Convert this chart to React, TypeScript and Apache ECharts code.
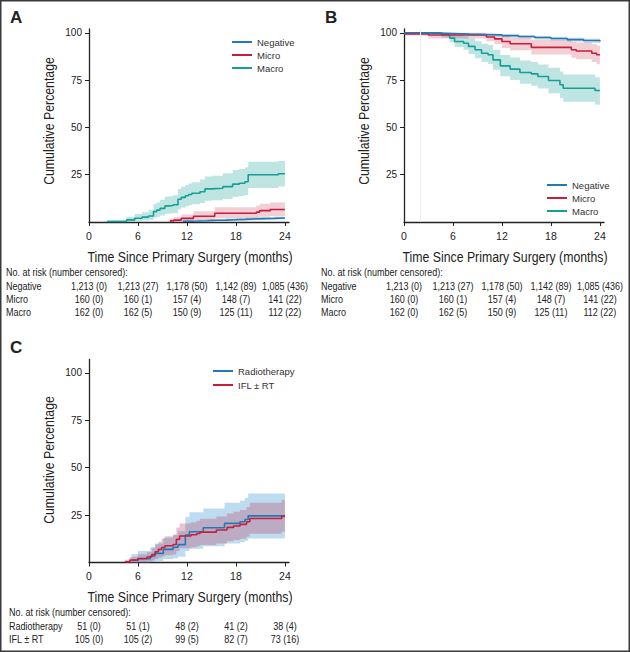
import { useEffect, useRef } from 'react';
import * as echarts from 'echarts';

const FONT = '"Liberation Sans", Arial, sans-serif';
const NARROW = 0.82;
const BLUE = '#2378b6';
const RED = '#c61f3e';
const TEAL = '#14a096';
const INK = '#222';

const monthTicks = [0, 6, 12, 18, 24];
const pctTicks = [25, 50, 75, 100];

// ---------- Panel A (cumulative incidence) ----------
const aNegT = [11.5, 12.4, 13.3, 14.5, 15.6, 16.8, 18.0, 19.2, 20.3, 21.5, 22.7, 24];
const aNegV = [0.4, 0.5, 0.7, 0.9, 1.0, 1.2, 1.4, 1.6, 1.8, 1.9, 2.1, 2.2];
const aNegLo = [0.0, 0.1, 0.2, 0.4, 0.5, 0.6, 0.8, 0.9, 1.1, 1.2, 1.3, 1.4];
const aNegHi = [0.9, 1.0, 1.2, 1.5, 1.6, 1.9, 2.1, 2.4, 2.6, 2.7, 2.9, 3.1];

const aMicT = [9.9, 10.4, 11.3, 12.8, 15.4, 20.5, 20.9, 22.2, 24];
const aMicV = [0.6, 1.0, 1.9, 3.0, 4.6, 5.2, 6.0, 6.6, 6.6];
const aMicLo = [0.0, 0.1, 0.4, 1.0, 2.0, 2.4, 2.8, 3.2, 3.2];
const aMicHi = [1.8, 2.6, 4.0, 5.7, 7.8, 8.6, 9.6, 10.3, 10.3];

const aMacT = [2.2, 4.6, 5.6, 6.5, 7.3, 7.9, 8.3, 8.7, 9.3, 9.8, 10.3, 10.9, 11.3, 11.8, 12.2, 12.6, 13.6, 14.2, 15.0, 16.4, 17.6, 18.4, 19.1, 19.5, 23.2, 24];
const aMacV = [0.3, 1.1, 2.0, 2.6, 3.2, 5.5, 6.3, 7.2, 8.5, 8.7, 9.1, 12.0, 13.0, 13.9, 14.5, 15.2, 16.0, 17.5, 17.8, 18.7, 20.0, 20.5, 21.3, 25.0, 25.5, 25.5];
const aMacLo = [0.0, 0.2, 0.5, 0.8, 1.1, 2.3, 2.8, 3.4, 4.3, 4.5, 4.8, 6.8, 7.6, 8.3, 8.8, 9.4, 10.0, 11.2, 11.5, 12.2, 13.3, 13.7, 14.3, 18.0, 18.7, 18.7];
const aMacHi = [1.0, 2.8, 4.2, 5.2, 6.5, 9.5, 10.5, 11.7, 13.3, 13.6, 14.2, 17.5, 18.6, 19.6, 20.3, 21.0, 22.5, 24.0, 24.4, 25.7, 27.5, 28.0, 29.0, 31.8, 32.3, 32.3];

// ---------- Panel B ----------
const bNegT = [0, 2, 4, 6, 8, 10, 12, 14, 16, 18, 20, 22, 24];
const bNegV = [100, 99.8, 99.6, 99.3, 99.1, 98.9, 98.5, 98.0, 97.5, 97.0, 96.4, 95.9, 95.4];
const bNegLo = [99.8, 99.5, 99.2, 98.8, 98.5, 98.2, 97.7, 97.1, 96.5, 95.9, 95.2, 94.6, 94.0];
const bNegHi = [100, 100, 99.9, 99.7, 99.6, 99.4, 99.1, 98.7, 98.3, 97.9, 97.4, 97.0, 96.6];

const bMicT = [0, 3.0, 10.1, 11.1, 12.0, 13.0, 15.6, 20.5, 21.1, 23.0, 23.6, 24];
const bMicV = [99.4, 98.8, 97.8, 96.8, 95.4, 94.2, 92.3, 91.0, 90.4, 89.2, 88.4, 88.4];
const bMicLo = [98.5, 97.0, 95.5, 94.0, 92.0, 90.8, 88.5, 86.8, 86.0, 84.5, 83.4, 83.4];
const bMicHi = [100, 100, 99.5, 99.0, 98.2, 97.5, 96.3, 95.2, 94.8, 94.0, 93.3, 93.3];

const bMacT = [0, 4.6, 5.6, 6.2, 7.3, 7.9, 8.7, 9.5, 10.3, 10.9, 11.8, 13.0, 14.2, 15.6, 16.4, 17.7, 19.1, 19.5, 23.4, 24];
const bMacV = [100, 99.1, 97.2, 95.4, 94.5, 92.8, 91.0, 89.2, 88.4, 85.7, 82.5, 80.8, 79.0, 78.3, 76.9, 74.8, 72.5, 70.7, 69.5, 69.5];
const bMacLo = [100, 97.5, 95.0, 92.5, 91.0, 88.8, 86.5, 84.5, 83.5, 80.5, 77.0, 75.0, 73.0, 72.0, 70.5, 68.0, 65.5, 63.5, 62.0, 62.0];
const bMacHi = [100, 100, 99.5, 98.8, 98.2, 97.0, 95.5, 94.2, 93.5, 91.0, 88.2, 87.0, 85.3, 84.5, 83.3, 81.5, 79.5, 78.0, 76.5, 76.5];

// ---------- Panel C ----------
const cRadT = [5.2, 6.0, 7.5, 8.1, 9.1, 10.3, 10.9, 11.8, 12.3, 14.0, 16.6, 18.5, 19.1, 19.5, 24];
const cRadV = [1.2, 2.0, 3.4, 4.8, 6.9, 8.0, 9.4, 14.5, 16.2, 18.3, 20.6, 21.5, 22.7, 24.6, 24.6];
const cRadLo = [0, 0, 0.3, 0.8, 1.8, 2.3, 3.0, 6.0, 7.3, 8.5, 10.0, 10.7, 11.5, 12.7, 12.7];
const cRadHi = [4.5, 6.0, 8.0, 10.0, 13.0, 14.5, 16.5, 24.0, 26.5, 28.5, 31.5, 32.5, 34.0, 36.4, 36.4];

const cIflT = [4.4, 5.0, 6.0, 7.1, 7.7, 8.1, 8.5, 8.9, 9.3, 10.3, 10.7, 11.1, 12.5, 13.2, 13.6, 15.6, 16.9, 17.7, 18.5, 19.3, 19.7, 23.6, 24];
const cIflV = [0.4, 1.3, 2.1, 2.9, 4.2, 5.7, 6.9, 7.9, 8.8, 9.5, 12.2, 14.0, 14.6, 15.3, 16.0, 17.1, 18.5, 19.2, 20.1, 21.5, 23.2, 24.3, 24.3];
const cIflLo = [0, 0, 0.2, 0.5, 1.0, 1.8, 2.5, 3.2, 3.8, 4.2, 6.0, 7.5, 8.0, 8.6, 9.2, 10.0, 11.2, 11.8, 12.5, 13.7, 15.2, 16.2, 16.2];
const cIflHi = [1.5, 3.0, 4.3, 5.5, 7.5, 9.5, 11.0, 12.5, 13.8, 14.8, 18.5, 20.5, 21.2, 22.0, 23.0, 24.3, 25.8, 26.7, 27.7, 29.3, 31.5, 32.9, 32.9];

// ---------- Risk tables ----------
const riskHeader = 'No. at risk (number censored):';
const riskNegative = ['1,213 (0)', '1,213 (27)', '1,178 (50)', '1,142 (89)', '1,085 (436)'];
const riskMicro = ['160 (0)', '160 (1)', '157 (4)', '148 (7)', '141 (22)'];
const riskMacro = ['162 (0)', '162 (5)', '150 (9)', '125 (11)', '112 (22)'];
const riskRadio = ['51 (0)', '51 (1)', '48 (2)', '41 (2)', '38 (4)'];
const riskIfl = ['105 (0)', '105 (2)', '99 (5)', '82 (7)', '73 (16)'];

const xTitle = 'Time Since Primary Surgery (months)';
const yTitle = 'Cumulative Percentage';

function pairs(t: number[], v: number[]) {
  return t.map((x, i) => [x, v[i]]);
}

function kmLine(name: string, g: number, t: number[], v: number[], color: string) {
  return {
    type: 'line', name, xAxisIndex: g, yAxisIndex: g,
    data: pairs(t, v), step: 'end', symbol: 'none', showSymbol: false,
    lineStyle: { color, width: 1.6 }, itemStyle: { color }, z: 4,
  };
}

function band(id: string, g: number, t: number[], lo: number[], hi: number[], color: string, opacity: number) {
  return {
    type: 'custom', name: id, coordinateSystem: 'cartesian2d', xAxisIndex: g, yAxisIndex: g,
    data: t.map((x, i) => [x, lo[i], hi[i]]),
    encode: { x: 0, y: [1, 2] }, z: 2, silent: true,
    renderItem: (params: any, api: any) => {
      if (params.dataIndex !== 0) return null;
      const n = t.length;
      const pts: number[][] = [];
      for (let i = 0; i < n; i++) {
        pts.push(api.coord([t[i], hi[i]]));
        if (i < n - 1) pts.push(api.coord([t[i + 1], hi[i]]));
      }
      for (let i = n - 1; i >= 0; i--) {
        if (i < n - 1) pts.push(api.coord([t[i + 1], lo[i]]));
        pts.push(api.coord([t[i], lo[i]]));
      }
      return { type: 'polygon', shape: { points: pts }, style: { fill: color, opacity } };
    },
  };
}

function xAxisOf(g: number) {
  return {
    type: 'value', gridIndex: g, min: 0, max: 24.5, interval: 6,
    axisLine: { lineStyle: { color: INK, width: 1.3 } },
    axisTick: { show: true, length: 4, lineStyle: { color: INK, width: 1 }, customValues: monthTicks },
    axisLabel: { fontFamily: FONT, fontSize: 10.5, color: INK, margin: 8, customValues: monthTicks },
    splitLine: { show: false },
  };
}

function yAxisOf(g: number, max: number) {
  return {
    type: 'value', gridIndex: g, min: 0, max, interval: 25,
    axisLine: { show: true, lineStyle: { color: INK, width: 1.3 } },
    axisTick: { show: true, length: 4, lineStyle: { color: INK, width: 1 }, customValues: pctTicks },
    axisLabel: { fontFamily: FONT, fontSize: 10, color: INK, margin: 7, customValues: pctTicks },
    splitLine: { show: false },
  };
}

function legendOf(names: string[], left: number, top: number, lh: number) {
  return {
    data: names, orient: 'vertical', left, top, padding: 0, itemGap: 0,
    icon: 'rect', itemWidth: 20, itemHeight: 2, selectedMode: false,
    textStyle: { fontFamily: FONT, fontSize: 9.5, color: '#333', lineHeight: lh },
  };
}

export default function App() {
  const ref = useRef<HTMLDivElement>(null);

  useEffect(() => {
    document.body.style.margin = '0';
    const chart = echarts.init(ref.current!, undefined, { renderer: 'svg' });

    const series: any[] = [
      band('aMacBand', 0, aMacT, aMacLo, aMacHi, TEAL, 0.27),
      band('aMicBand', 0, aMicT, aMicLo, aMicHi, RED, 0.22),
      band('aNegBand', 0, aNegT, aNegLo, aNegHi, BLUE, 0.22),
      kmLine('Macro', 0, aMacT, aMacV, TEAL),
      kmLine('Micro', 0, aMicT, aMicV, RED),
      kmLine('Negative', 0, aNegT, aNegV, BLUE),

      {
        type: 'line', name: 'bRef', xAxisIndex: 1, yAxisIndex: 1, data: [], silent: true,
        markLine: { silent: true, symbol: 'none', label: { show: false }, animation: false,
          lineStyle: { color: '#ededed', width: 1, type: 'solid' }, data: [{ xAxis: 2 }] },
      },
      band('bMacBand', 1, bMacT, bMacLo, bMacHi, TEAL, 0.27),
      band('bMicBand', 1, bMicT, bMicLo, bMicHi, RED, 0.22),
      band('bNegBand', 1, bNegT, bNegLo, bNegHi, BLUE, 0.22),
      kmLine('Macro', 1, bMacT, bMacV, TEAL),
      kmLine('Micro', 1, bMicT, bMicV, RED),
      kmLine('Negative', 1, bNegT, bNegV, BLUE),

      band('cRadBand', 2, cRadT, cRadLo, cRadHi, '#62acd8', 0.42),
      band('cIflBand', 2, cIflT, cIflLo, cIflHi, '#b8486a', 0.32),
      kmLine('Radiotherapy', 2, cRadT, cRadV, BLUE),
      kmLine('IFL \u00b1 RT', 2, cIflT, cIflV, RED),
    ];

    const staticGraphics: any[] = [
      { type: 'rect', shape: { x: 0.75, y: 0.75, width: 628.5, height: 650.5 },
        style: { fill: 'none', stroke: '#3a3a3a', lineWidth: 1.5 }, silent: true },
    ];
    const addText = (text: string, x: number, y: number, o: any = {}) => {
      staticGraphics.push({
        type: 'text', x, y, rotation: o.rotation || 0, scaleX: o.scaleX ?? NARROW, silent: true,
        style: {
          text, fill: o.fill || INK, fontSize: o.fontSize || 11,
          fontFamily: FONT, fontWeight: o.fontWeight || 'normal',
          textAlign: o.align || 'left', textVerticalAlign: 'middle',
        },
      });
    };
    addText('A', 10, 17, { fontSize: 17, fontWeight: 'bold', scaleX: 1 });
    addText('B', 325, 17, { fontSize: 17, fontWeight: 'bold', scaleX: 1 });
    addText('C', 10, 347, { fontSize: 17, fontWeight: 'bold', scaleX: 1 });
    addText(yTitle, 49, 121, { fontSize: 15, align: 'center', rotation: Math.PI / 2 });
    addText(yTitle, 364, 121, { fontSize: 15, align: 'center', rotation: Math.PI / 2 });
    addText(yTitle, 49, 460, { fontSize: 15, align: 'center', rotation: Math.PI / 2 });
    addText(xTitle, 190, 257, { fontSize: 15, align: 'center' });
    addText(xTitle, 505, 257, { fontSize: 15, align: 'center' });
    addText(xTitle, 190, 597, { fontSize: 15, align: 'center' });

    chart.setOption({
      animation: false,
      grid: [
        { left: 89, top: 29, width: 200, height: 193 },
        { left: 404, top: 29, width: 200, height: 193 },
        { left: 89, top: 359.5, width: 200, height: 203 },
      ],
      xAxis: [xAxisOf(0), xAxisOf(1), xAxisOf(2)],
      yAxis: [yAxisOf(0, 102), yAxisOf(1, 102), yAxisOf(2, 107)],
      legend: [
        legendOf(['Negative', 'Micro', 'Macro'], 232, 35.5, 13),
        legendOf(['Negative', 'Micro', 'Macro'], 547, 178.5, 13),
        legendOf(['Radiotherapy', 'IFL \u00b1 RT'], 213, 364, 14),
      ],
      series,
    });

    const tables = [
      { g: 0, labelX: 6, headerY: 272, rows: [['Negative', riskNegative, 286], ['Micro', riskMicro, 299.5], ['Macro', riskMacro, 312.5]] },
      { g: 1, labelX: 321, headerY: 272, rows: [['Negative', riskNegative, 286], ['Micro', riskMicro, 299.5], ['Macro', riskMacro, 312.5]] },
      { g: 2, labelX: 9, headerY: 612, rows: [['Radiotherapy', riskRadio, 626], ['IFL \u00b1 RT', riskIfl, 639]] },
    ];
    tables.forEach((tb) => {
      addText(riskHeader, tb.labelX, tb.headerY, { fontSize: 11 });
      tb.rows.forEach((r: any) => {
        addText(r[0], tb.labelX, r[2], { fontSize: 11 });
        (r[1] as string[]).forEach((s, i) => {
          const px = chart.convertToPixel({ xAxisIndex: tb.g } as any, monthTicks[i]) as number;
          addText(s, px, r[2], { fontSize: 11, align: 'center' });
        });
      });
    });

    chart.setOption({ graphic: staticGraphics });

    return () => chart.dispose();
  }, []);

  return <div ref={ref} style={{ width: 630, height: 652 }} />;
}
